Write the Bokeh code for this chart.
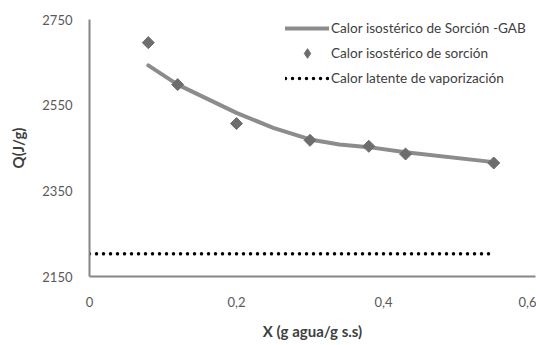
from bokeh.plotting import figure
from bokeh.models import Legend, LegendItem, FixedTicker, Range1d
from bokeh.embed import file_html
from bokeh.resources import INLINE

# Data
x_obs = [0.08, 0.12, 0.20, 0.30, 0.38, 0.43, 0.55]
q_obs = [2696, 2598, 2507, 2468, 2454, 2436, 2415]

x_gab = [0.08, 0.12, 0.20, 0.25, 0.30, 0.34, 0.38, 0.43, 0.55]
q_gab = [2643, 2598, 2532, 2497, 2470, 2458, 2452, 2440, 2417]

x_lat = [0.0, 0.55]
q_lat = [2203, 2203]

x_ticks = [0, 0.2, 0.4, 0.6]
x_tick_labels = ["0", "0,2", "0,4", "0,6"]
y_ticks = [2150, 2350, 2550, 2750]

label_gab = "Calor isostérico de Sorción -GAB"
label_obs = "Calor isostérico de sorción"
label_lat = "Calor latente de vaporización"

FONT = "Lato"
PT = "#6d6d6d"

p = figure(width=536, height=345, output_backend="svg", toolbar_location=None,
           x_range=Range1d(0, 0.6068), y_range=Range1d(2150, 2750),
           min_border_left=89, min_border_right=1, min_border_top=19, min_border_bottom=69)
p.outline_line_color = None
p.grid.visible = False
p.background_fill_color = "white"
p.border_fill_color = "white"

r_gab = p.line(x_gab, q_gab, line_color="#8c8c8c", line_width=4, line_cap="round", line_join="round")
# diamond markers (drawn beneath the rotated squares; used for the legend key)
r_obs_key = p.scatter(x_obs, q_obs, marker="diamond", size=8, fill_color=PT, line_color=PT)
p.scatter(x_obs, q_obs, marker="square", size=8.5, angle=0.785398, fill_color=PT, line_color=PT)
r_lat = p.line(x_lat, q_lat, line_color="black", line_width=3.5, line_dash="0 7", line_cap="round")

for ax in (p.xaxis[0], p.yaxis[0]):
    ax.axis_line_color = "#868686"
    ax.axis_line_width = 2
    ax.major_tick_line_color = None
    ax.minor_tick_line_color = None
    ax.major_tick_out = 0
    ax.major_tick_in = 0
    ax.major_label_text_font = FONT
    ax.major_label_text_font_size = "13px"
    ax.major_label_text_color = "#595959"
    ax.axis_label_text_font = FONT
    ax.axis_label_text_font_style = "bold"
    ax.axis_label_text_font_size = "15px"
    ax.axis_label_text_color = "#404040"

p.xaxis.ticker = FixedTicker(ticks=x_ticks)
p.xaxis.major_label_overrides = {t: l for t, l in zip(x_ticks, x_tick_labels)}
p.yaxis.ticker = FixedTicker(ticks=y_ticks)
p.xaxis.major_label_standoff = 20
p.yaxis.major_label_standoff = 17
p.xaxis.axis_label = "X (g agua/g s.s)"
p.yaxis.axis_label = "Q(J/g)"
p.xaxis.axis_label_standoff = 12
p.yaxis.axis_label_standoff = 12

legend = Legend(items=[LegendItem(label=label_gab, renderers=[r_gab]),
                       LegendItem(label=label_obs, renderers=[r_obs_key]),
                       LegendItem(label=label_lat, renderers=[r_lat])],
                location=(196, 186))
legend.border_line_color = None
legend.background_fill_alpha = 0
legend.label_text_font = FONT
legend.label_text_font_size = "13.6px"
legend.label_text_color = "#404040"
legend.glyph_width = 44
legend.glyph_height = 24
legend.label_height = 20
legend.label_standoff = 2
legend.spacing = 1
legend.padding = 5
legend.margin = 0
p.add_layout(legend)

open("out.html", "w").write(file_html(p, INLINE))
